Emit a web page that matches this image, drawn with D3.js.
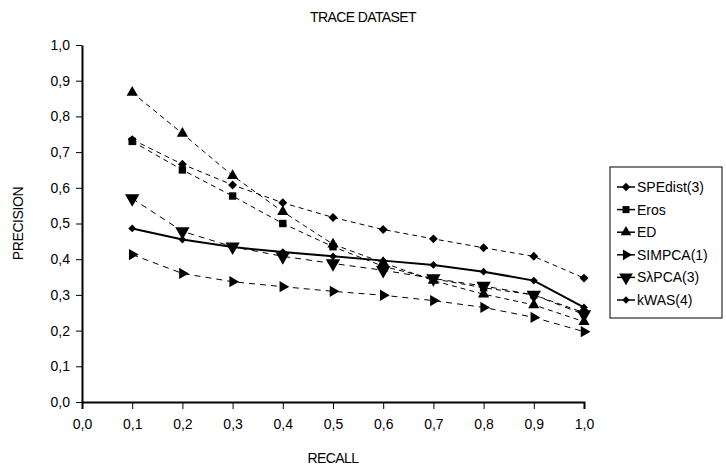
<!DOCTYPE html>
<html>
<head>
<meta charset="utf-8">
<script src="https://cdn.jsdelivr.net/npm/d3@7"></script>
<style>
  body { margin: 0; background: #fff; }
  text { font-family: "Liberation Sans", Arial, sans-serif; fill: #000; }
</style>
</head>
<body>
<div id="chart"></div>
<script>
// data
var recall = [0.1, 0.2, 0.3, 0.4, 0.5, 0.6, 0.7, 0.8, 0.9, 1.0];
var spedist = [0.735, 0.666, 0.608, 0.558, 0.517, 0.483, 0.457, 0.432, 0.408, 0.347];
var eros    = [0.730, 0.650, 0.577, 0.500, 0.435, 0.380, 0.345, 0.320, 0.300, 0.250];
var ed      = [0.867, 0.752, 0.634, 0.533, 0.442, 0.390, 0.340, 0.302, 0.272, 0.225];
var simpca  = [0.413, 0.360, 0.337, 0.323, 0.310, 0.299, 0.284, 0.265, 0.237, 0.197];
var slpca   = [0.570, 0.478, 0.435, 0.408, 0.388, 0.369, 0.346, 0.325, 0.300, 0.245];
var kwas    = [0.486, 0.455, 0.434, 0.420, 0.408, 0.396, 0.384, 0.365, 0.340, 0.265];
var xTicks = [0, 0.1, 0.2, 0.3, 0.4, 0.5, 0.6, 0.7, 0.8, 0.9, 1.0];
var yTicks = [0, 0.1, 0.2, 0.3, 0.4, 0.5, 0.6, 0.7, 0.8, 0.9, 1.0];

var series = [
  {name: "SPEdist(3)", values: spedist, shape: "diamond", size: 40, dash: "5,4", width: 1},
  {name: "Eros", values: eros, shape: "square", size: 55, dash: "5,4", width: 1},
  {name: "ED", values: ed, shape: "up", size: 55, dash: "5,4", width: 1},
  {name: "SIMPCA(1)", values: simpca, shape: "right", size: 55, dash: "6,5", width: 1},
  {name: "S\u03bbPCA(3)", values: slpca, shape: "down", size: 90, dash: "6,5", width: 1},
  {name: "kWAS(4)", values: kwas, shape: "diamond", size: 30, dash: null, width: 2}
];

var W = 726, H = 470;
var margin = {top: 45, right: 142, bottom: 68, left: 82},
    width = W - margin.left - margin.right,
    height = H - margin.top - margin.bottom;

var svg = d3.select("#chart")
  .append("svg")
    .attr("width", W)
    .attr("height", H);

var g = svg.append("g")
    .attr("transform", "translate(" + margin.left + "," + margin.top + ")");

var x = d3.scaleLinear().domain([0, 1]).range([0, width]);
var y = d3.scaleLinear().domain([0, 1]).range([height, 0]);
var fmt = function (d) { return d3.format(".1f")(d).replace(".", ","); };

// x axis
var xa = g.append("g")
    .attr("transform", "translate(0," + height + ")")
    .call(d3.axisBottom(x).tickValues(xTicks).tickFormat(fmt).tickSize(7).tickPadding(10));
xa.select(".domain").attr("stroke-width", 2);
xa.selectAll("text").style("font-size", "14px");

// y axis
var ya = g.append("g")
    .call(d3.axisLeft(y).tickValues(yTicks).tickFormat(fmt).tickSize(6).tickPadding(6).tickSizeOuter(0));
ya.select(".domain").attr("stroke-width", 2);
ya.selectAll("text").style("font-size", "14px");

// symbols
function symbolPath(shape, size) {
  var t = shape === "square" || shape === "diamond" ? d3.symbolSquare : d3.symbolTriangle;
  return d3.symbol().type(t).size(size)();
}
function symbolRotate(shape) {
  if (shape === "diamond") return 45;
  if (shape === "right") return 90;
  if (shape === "down") return 180;
  return 0;
}

var line = d3.line()
  .x(function (d, i) { return x(recall[i]); })
  .y(function (d) { return y(d); });

series.forEach(function (s) {
  g.append("path")
    .datum(s.values)
    .attr("fill", "none")
    .attr("stroke", "#000")
    .attr("stroke-width", s.width)
    .attr("stroke-dasharray", s.dash)
    .attr("d", line);

  g.selectAll(null)
    .data(s.values)
    .enter()
    .append("path")
      .attr("d", symbolPath(s.shape, s.size))
      .attr("fill", "#000")
      .attr("transform", function (d, i) {
        return "translate(" + x(recall[i]) + "," + y(d) + ") rotate(" + symbolRotate(s.shape) + ")";
      });
});

// title and axis labels
svg.append("text")
  .attr("x", 363).attr("y", 22)
  .attr("text-anchor", "middle")
  .style("font-size", "14px")
  .style("letter-spacing", "-0.6px")
  .text("TRACE DATASET");

svg.append("text")
  .attr("x", margin.left + width / 2).attr("y", 463)
  .attr("text-anchor", "middle")
  .style("font-size", "14px")
  .style("letter-spacing", "-0.6px")
  .text("RECALL");

svg.append("text")
  .attr("transform", "translate(23," + (margin.top + height / 2) + ") rotate(-90)")
  .attr("text-anchor", "middle")
  .style("font-size", "14px")
  .style("letter-spacing", "-0.4px")
  .text("PRECISION");

// legend
var lg = svg.append("g").attr("transform", "translate(610,167)");
lg.append("rect")
  .attr("width", 112).attr("height", 151)
  .attr("fill", "#fff").attr("stroke", "#000").attr("stroke-width", 1);

var item = lg.selectAll(".item")
  .data(series)
  .enter()
  .append("g")
    .attr("transform", function (d, i) { return "translate(0," + (20 + i * 22.6) + ")"; });
item.append("line")
  .attr("x1", 7).attr("x2", 25)
  .attr("stroke", "#000").attr("stroke-width", 1.5);
item.append("path")
  .attr("d", function (d) { return symbolPath(d.shape, d.size * 0.9); })
  .attr("transform", function (d) { return "translate(16,0) rotate(" + symbolRotate(d.shape) + ")"; });
item.append("text")
  .attr("x", 27).attr("dy", "0.36em")
  .style("font-size", "14px")
  .text(function (d) { return d.name; });
</script>
</body>
</html>
